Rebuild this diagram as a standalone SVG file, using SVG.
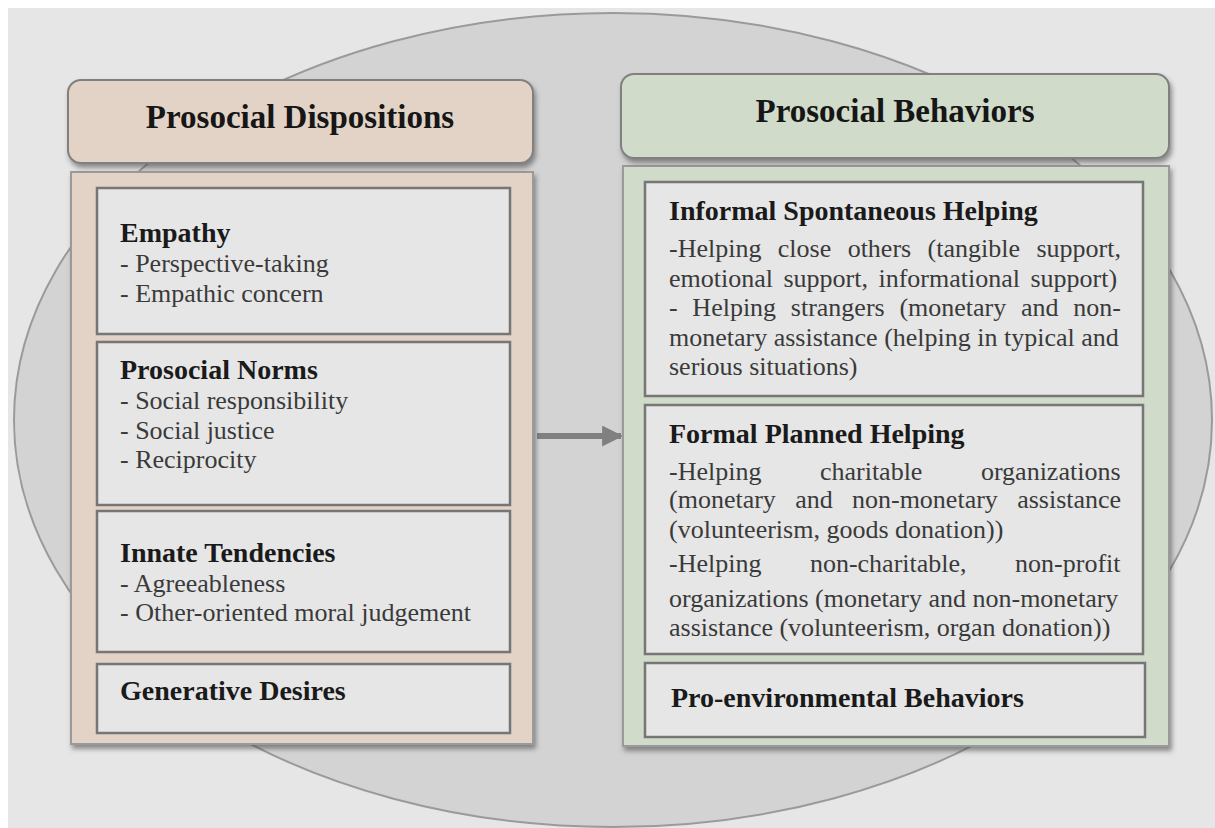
<svg xmlns="http://www.w3.org/2000/svg" width="1215" height="828" viewBox="0 0 1215 828">
<defs>
<filter id="sh" x="-5%" y="-5%" width="112%" height="115%">
<feDropShadow dx="2" dy="4" stdDeviation="2.5" flood-color="#404040" flood-opacity="0.55"/>
</filter>
<marker id="arr" viewBox="0 0 10 10" refX="9" refY="5" markerWidth="3.5" markerHeight="3.5" orient="auto" markerUnits="strokeWidth">
<path d="M0,0 L10,5 L0,10 z" fill="#808080"/>
</marker>
</defs>
<style>
.hdrL{fill:#e2d3c6;stroke:#808080;stroke-width:2}
.hdrR{fill:#d0dbc9;stroke:#808080;stroke-width:2}
.bodyL{fill:#e2d3c6;stroke:#9a9a9a;stroke-width:2}
.bodyR{fill:#d0dbc9;stroke:#9a9a9a;stroke-width:2}
.inner{fill:#e6e6e6;stroke:#767676;stroke-width:2.5}
.title{font-family:"Liberation Serif","Times New Roman",serif;font-weight:bold;font-size:33px;fill:#161616;text-anchor:middle}
.sub{font-family:"Liberation Serif","Times New Roman",serif;font-weight:bold;font-size:28px;fill:#1a1a1a}
.txt{font-family:"Liberation Serif","Times New Roman",serif;font-size:26px;fill:#3a3a3a}
</style>
<rect x="0" y="0" width="1215" height="828" fill="#ffffff"/>
<rect x="8" y="8" width="1207" height="820" fill="#e6e6e6"/>
<ellipse cx="613" cy="420" rx="599" ry="407" fill="#d3d3d3" stroke="#9a9a9a" stroke-width="2"/>

<g id="connectors">
<line x1="537" y1="436" x2="621" y2="436" stroke="#808080" stroke-width="6" marker-end="url(#arr)"/>
</g>

<g id="dispositions">
<rect class="bodyL" x="71" y="172" width="462" height="572" filter="url(#sh)"/>
<rect class="hdrL" x="68" y="80" width="465" height="83" rx="13" filter="url(#sh)"/>
<text class="title" x="300" y="128">Prosocial Dispositions</text>
</g>

<g id="empathy">
<rect class="inner" x="97" y="188" width="413" height="146"/>
<text class="sub" x="120" y="242">Empathy</text>
<text class="txt" x="120" y="272">- Perspective-taking</text>
<text class="txt" x="120" y="302">- Empathic concern</text>
</g>

<g id="norms">
<rect class="inner" x="97" y="342" width="413" height="163"/>
<text class="sub" x="120" y="379">Prosocial Norms</text>
<text class="txt" x="120" y="409">- Social responsibility</text>
<text class="txt" x="120" y="439">- Social justice</text>
<text class="txt" x="120" y="468">- Reciprocity</text>
</g>

<g id="innate">
<rect class="inner" x="97" y="511" width="413" height="141"/>
<text class="sub" x="120" y="562">Innate Tendencies</text>
<text class="txt" x="120" y="592">- Agreeableness</text>
<text class="txt" x="120" y="621">- Other-oriented moral judgement</text>
</g>

<g id="generative">
<rect class="inner" x="97" y="664" width="413" height="69"/>
<text class="sub" x="120" y="700">Generative Desires</text>
</g>

<g id="behaviors">
<rect class="bodyR" x="623" y="166" width="546" height="580" filter="url(#sh)"/>
<rect class="hdrR" x="621" y="74" width="548" height="84" rx="13" filter="url(#sh)"/>
<text class="title" x="895" y="122">Prosocial Behaviors</text>
</g>

<g id="informal">
<rect class="inner" x="645" y="182" width="498" height="214"/>
<text class="sub" x="669" y="220">Informal Spontaneous Helping</text>
<text class="txt" x="669" y="257" word-spacing="9.9">-Helping close others (tangible support,</text>
<text class="txt" x="669" y="287" word-spacing="4">emotional support, informational support)</text>
<text class="txt" x="669" y="316" word-spacing="8.2">- Helping strangers (monetary and non-</text>
<text class="txt" x="669" y="346">monetary assistance (helping in typical and</text>
<text class="txt" x="669" y="375">serious situations)</text>
</g>

<g id="formal">
<rect class="inner" x="645" y="405" width="498" height="249"/>
<text class="sub" x="669" y="443">Formal Planned Helping</text>
<text class="txt" x="669" y="480" word-spacing="52">-Helping charitable organizations</text>
<text class="txt" x="669" y="508" word-spacing="12.8">(monetary and non-monetary assistance</text>
<text class="txt" x="669" y="538">(volunteerism, goods donation))</text>
<text class="txt" x="669" y="572" word-spacing="42">-Helping non-charitable, non-profit</text>
<text class="txt" x="669" y="607">organizations (monetary and non-monetary</text>
<text class="txt" x="669" y="636">assistance (volunteerism, organ donation))</text>
</g>

<g id="proenv">
<rect class="inner" x="645" y="663" width="500" height="74"/>
<text class="sub" x="671" y="707">Pro-environmental Behaviors</text>
</g>
</svg>
